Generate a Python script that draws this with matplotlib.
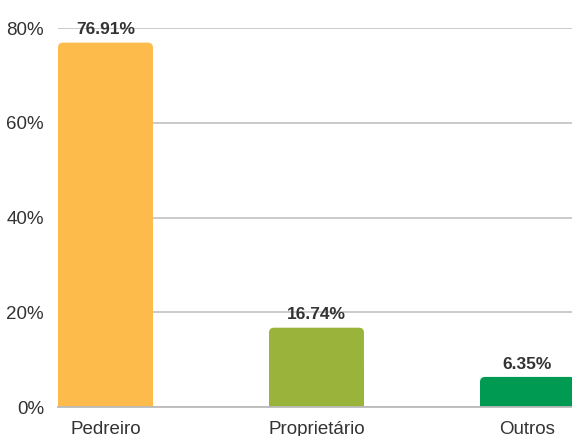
import matplotlib
matplotlib.use("Agg")
import matplotlib.pyplot as plt
from matplotlib.patches import FancyBboxPatch, Rectangle

plt.rcParams['font.family'] = ['Liberation Sans', 'DejaVu Sans']

categories = ["Pedreiro", "Proprietário", "Outros"]
values = [76.91, 16.74, 6.35]
colors = ["#FDBB4B", "#9AB33A", "#009A52"]
yticks = [0, 20, 40, 60, 80]

fig = plt.figure(figsize=(5.72, 4.36), dpi=100)
ax = fig.add_axes([58 / 572, 29 / 436, 514 / 572, 379 / 436])

width = 0.45
r = 0.024  # corner radius in x units
for i, (v, c) in enumerate(zip(values, colors)):
    x0 = i - width / 2
    # rounded top, square bottom
    ax.add_patch(FancyBboxPatch((x0, 0), width, v,
                                boxstyle=f"round,pad=0,rounding_size={r}",
                                mutation_aspect=44.5, fc=c, ec="none", zorder=2))
    ax.add_patch(Rectangle((x0, 0), width, v / 2, fc=c, ec="none", zorder=2))
    ax.text(i, v + 1.1, f"{v:.2f}%", ha="center", va="bottom",
            fontsize=12.5, fontweight="bold", color="#333333", zorder=3)

ax.set_xlim(-0.225, 2.211)
ax.set_ylim(0, 80)
ax.set_yticks(yticks)
ax.set_yticklabels([f"{t}%" for t in yticks])
ax.set_xticks(range(len(categories)))
ax.set_xticklabels(categories)
ax.tick_params(axis="both", length=0, labelsize=13.5, colors="#333333")
ax.tick_params(axis="y", pad=10)
ax.tick_params(axis="x", pad=10)
ax.grid(axis="y", color="#c6c6c6", linewidth=1.3, zorder=0)
for s in ["top", "right", "left"]:
    ax.spines[s].set_visible(False)
ax.spines["bottom"].set_color("#bbbbbb")
ax.spines["bottom"].set_linewidth(1.3)
ax.set_axisbelow(True)

fig.savefig("out.png", dpi=100)
